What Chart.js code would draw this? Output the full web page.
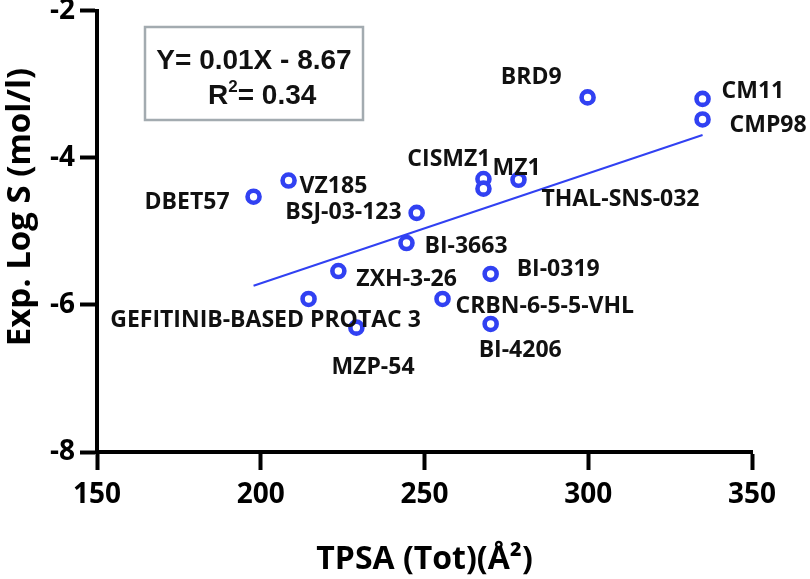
<!DOCTYPE html>
<html>
<head>
<meta charset="utf-8">
<script src="https://cdn.jsdelivr.net/npm/chart.js@4/dist/chart.umd.min.js"></script>
<style>
  html, body { margin: 0; padding: 0; background: #fff; }
  #wrap { width: 810px; height: 579px; }
</style>
</head>
<body>
<div id="wrap"><canvas id="myChart" width="810" height="579"></canvas></div>
<script>
// compounds, TPSA (x) and experimental log S (y)
const names = ['DBET57', 'VZ185', 'BSJ-03-123', 'CISMZ1', 'THAL-SNS-032', 'MZ1', 'BRD9', 'CM11', 'CMP98',
    'BI-3663', 'BI-0319', 'ZXH-3-26', 'CRBN-6-5-5-VHL', 'BI-4206', 'GEFITINIB-BASED PROTAC 3', 'MZP-54'];
const tpsa = [197.8, 208.5, 247.6, 268.0, 268.0, 278.7, 299.8, 334.9, 334.9,
    244.5, 270.2, 223.7, 255.5, 270.2, 214.6, 229.2];
const logS = [-4.53, -4.31, -4.75, -4.29, -4.42, -4.30, -3.18, -3.20, -3.48,
    -5.16, -5.58, -5.54, -5.92, -6.26, -5.92, -6.31];

// fitted line, as drawn
const fitX = [197.8, 334.9];
const fitY = [-5.74, -3.69];

const xTicks = [150, 200, 250, 300, 350];
const yTicks = [-8, -6, -4, -2];

// where each name sits next to its point: [align, dx, dy]
const labelPos = [
    ['right', -24, 4], ['left', 11, 4], ['right', -15, -2], ['right', 7, -21],
    ['left', 58, 9], ['left', -26, -13], ['right', -26, -21], ['left', 19, -9],
    ['left', 27, 5], ['left', 18, 2], ['left', 26, -6], ['left', 18, 7],
    ['left', 13, 6], ['left', -12, 25], ['center', -43, 20], ['left', -25, 38]
];

const blue = '#3141f2';
const font = '"Open Sans", "Noto Sans", sans-serif';

const pointLabels = {
    id: 'pointLabels',
    afterDatasetsDraw(chart) {
        const c = chart.ctx;
        const meta = chart.getDatasetMeta(0);
        c.save();
        c.font = 'bold 23px ' + font;
        c.fillStyle = '#111';
        c.textBaseline = 'alphabetic';
        meta.data.forEach((pt, i) => {
            const [align, dx, dy] = labelPos[i];
            c.textAlign = align;
            c.fillText(names[i], pt.x + dx, pt.y + dy + 8);
        });
        c.restore();
    }
};

// y title drawn by hand: it sits a bit above the middle of the axis
const yTitle = {
    id: 'yTitle',
    afterDraw(chart) {
        const c = chart.ctx;
        c.save();
        c.translate(30, 207);
        c.rotate(-Math.PI / 2);
        c.font = 'bold 33px ' + font;
        c.fillStyle = '#000';
        c.textAlign = 'center';
        c.textBaseline = 'alphabetic';
        c.fillText('Exp. Log S (mol/l)', 0, 0);
        c.restore();
    }
};

const eqBox = {
    id: 'eqBox',
    afterDraw(chart) {
        const c = chart.ctx;
        c.save();
        c.strokeStyle = '#a3abb0';
        c.lineWidth = 2.5;
        c.strokeRect(145, 27, 218, 93);
        c.fillStyle = '#111';
        c.font = 'bold 28px "Liberation Sans", Arial, sans-serif';
        c.textBaseline = 'alphabetic';
        c.textAlign = 'center';
        c.fillText('Y= 0.01X - 8.67', 254, 69);
        c.textAlign = 'left';
        c.fillText('R', 208, 104);
        const rw = c.measureText('R').width;
        c.font = 'bold 17px "Liberation Sans", Arial, sans-serif';
        c.fillText('2', 208 + rw, 92);
        const sw = c.measureText('2').width;
        c.font = 'bold 28px "Liberation Sans", Arial, sans-serif';
        c.fillText('= 0.34', 208 + rw + sw, 104);
        c.restore();
    }
};

const ctx = document.getElementById('myChart').getContext('2d');

new Chart(ctx, {
    type: 'scatter',
    data: {
        datasets: [{
            label: 'compounds',
            data: tpsa.map((x, i) => ({ x: x, y: logS[i] })),
            pointStyle: 'circle',
            pointRadius: 6,
            pointBorderWidth: 4.6,
            borderColor: blue,
            backgroundColor: '#fff',
            order: 1
        }, {
            type: 'line',
            label: 'fit',
            data: fitX.map((x, i) => ({ x: x, y: fitY[i] })),
            borderColor: blue,
            borderWidth: 2,
            pointRadius: 0,
            fill: false,
            order: 2
        }]
    },
    options: {
        responsive: false,
        animation: false,
        events: [],
        layout: { padding: { top: 10, right: 58, left: 0, bottom: 0 } },
        plugins: {
            legend: { display: false },
            tooltip: { enabled: false }
        },
        scales: {
            x: {
                type: 'linear',
                min: 150,
                max: 350,
                afterBuildTicks: s => { s.ticks = xTicks.map(v => ({ value: v })); },
                afterFit: s => { s.height = 127; s.paddingLeft = 0; s.paddingRight = 0; },
                border: { color: '#000', width: 4 },
                grid: { drawOnChartArea: false, drawTicks: true, tickLength: 18, tickWidth: 4, tickColor: '#000' },
                ticks: { color: '#000', font: { family: font, size: 28, weight: 'bold' }, padding: 8, maxRotation: 0 },
                title: {
                    display: true,
                    text: 'TPSA (Tot)(Å²)',
                    color: '#000',
                    font: { family: font, size: 32, weight: 'bold', lineHeight: 1.1 },
                    padding: { top: 0, bottom: 2 }
                }
            },
            y: {
                type: 'linear',
                min: -8,
                max: -2,
                afterBuildTicks: s => { s.ticks = yTicks.map(v => ({ value: v })); },
                afterFit: s => { s.width = 97; s.paddingTop = 0; s.paddingBottom = 0; },
                border: { color: '#000', width: 4 },
                grid: { drawOnChartArea: false, drawTicks: true, tickLength: 17, tickWidth: 4, tickColor: '#000' },
                ticks: { color: '#000', font: { family: font, size: 28, weight: 'bold' }, padding: 5 },
                title: { display: false }
            }
        }
    },
    plugins: [pointLabels, yTitle, eqBox]
});
</script>
</body>
</html>
